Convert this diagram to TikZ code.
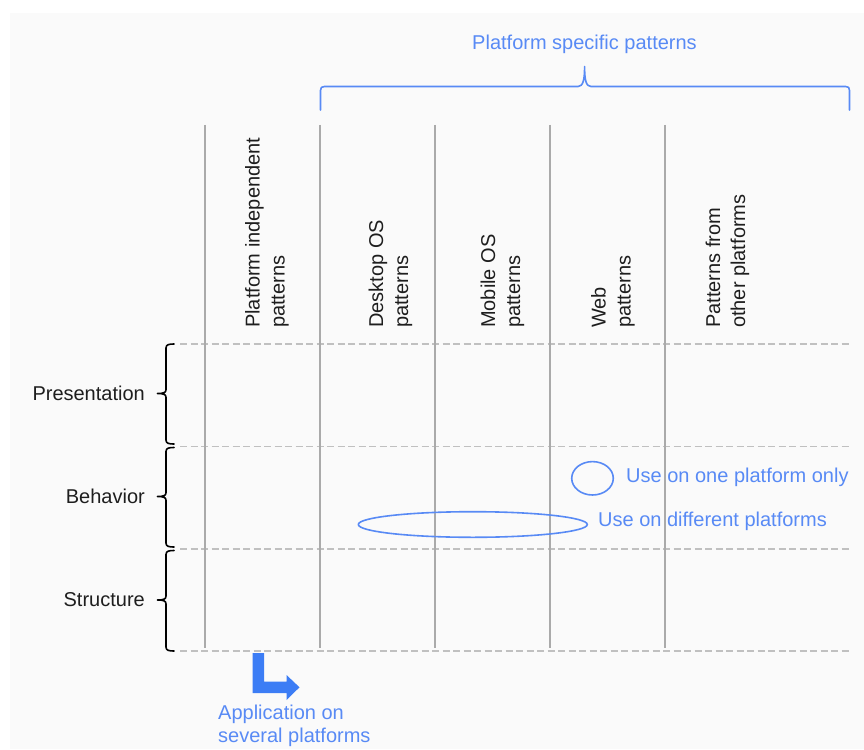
\documentclass[tikz,border=0pt]{standalone}
\usepackage{fontspec}
\setmainfont{Liberation Sans}
\definecolor{txtblue}{RGB}{88,138,245}
\definecolor{arrblue}{RGB}{60,125,245}
\definecolor{vgrey}{RGB}{170,170,170}
\definecolor{dgrey}{RGB}{192,192,192}
\definecolor{bggrey}{RGB}{250,250,250}
\definecolor{txtblack}{RGB}{30,30,30}
\begin{document}
\begin{tikzpicture}[x=1pt,y=-1pt,
  lbl/.style={font=\fontsize{20}{25}\selectfont, inner sep=0pt, text=txtblack},
  bl/.style={lbl, text=txtblue},
  vlbl/.style={lbl, rotate=90, anchor=west, align=left},
  vline/.style={draw=vgrey, line width=1.5pt},
  hdash/.style={draw=dgrey, line width=1.5pt, dash pattern=on 7pt off 3.5pt},
  bracestroke/.style={draw=black, line width=1.6pt, line cap=round, line join=round},
  bluestroke/.style={draw=txtblue, line width=1.6pt, line cap=round, line join=round},
]
\useasboundingbox (0,0) rectangle (864,749);
\fill[bggrey] (10,13) rectangle (864,749);

% dashed row separators
\foreach \y in {344,446.5,549,651}
  \draw[hdash] (180,\y) -- (850,\y);

% column lines
\foreach \x in {205,320,435,550,665}
  \draw[vline] (\x,125) -- (\x,648);

% left braces
\foreach \t/\m/\b in {344/393.5/444, 447.5/496.5/547, 550.5/600/651}
  \draw[bracestroke] (174,\t) .. controls (169,\t) and (166,\t+0.5) .. (166,\t+4)
    -- (166,\m-4) .. controls (166,\m-1) and (164,\m) .. (157.5,\m)
    .. controls (164,\m) and (166,\m+1) .. (166,\m+4)
    -- (166,\b-4) .. controls (166,\b-0.5) and (169,\b) .. (174,\b);

% top brace
\draw[bluestroke] (320.5,110) -- (320.5,90.5) .. controls (320.5,87.5) and (321.5,86.5) .. (324.5,86.5)
  -- (578,86.5) .. controls (583,86.5) and (584.6,80) .. (584.6,66.5)
  .. controls (584.6,80) and (586,86.5) .. (591,86.5)
  -- (845.5,86.5) .. controls (848.5,86.5) and (849.5,87.5) .. (849.5,90.5) -- (849.5,110);

\node[bl] (spec) at (584.5,44) {Platform specific patterns};

% column headers
\node[vlbl] (c1) at (267,328) {Platform independent\\patterns};
\node[vlbl] (c2) at (390.5,328) {Desktop OS\\patterns};
\node[vlbl] (c3) at (502.5,328) {Mobile OS\\patterns};
\node[vlbl] (c4) at (613,328) {Web\\patterns};
\node[vlbl] (c5) at (727.5,328) {Patterns from\\other platforms};

% row labels
\node[lbl, anchor=east] (r1) at (145,393) {Presentation};
\node[lbl, anchor=east] (r2) at (145,496) {Behavior};
\node[lbl, anchor=east] (r3) at (145,600) {Structure};

% ellipses
\draw[bluestroke] (592.5,478.3) ellipse [x radius=20.8pt, y radius=16.7pt];
\draw[bluestroke] (472.8,524.5) ellipse [x radius=114.5pt, y radius=12.8pt];
\node[bl, anchor=west] (one) at (626,477) {Use on one platform only};
\node[bl, anchor=west] (diff) at (598,521) {Use on different platforms};

% arrow
\fill[arrblue] (252.5,653) -- (264,653) -- (264,681.5) -- (286.5,681.5) -- (286.5,675)
  -- (299.5,687.3) -- (286.5,700) -- (286.5,693) -- (252.5,693) -- cycle;
\node[bl, anchor=west, align=left, font=\fontsize{20}{23}\selectfont] (app) at (218,725.5) {Application on\\several platforms};
\end{tikzpicture}
\end{document}
